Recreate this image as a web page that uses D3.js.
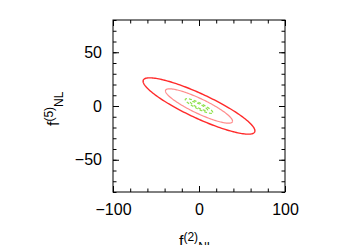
<!DOCTYPE html>
<html>
<head>
<meta charset="utf-8">
<script src="https://cdn.jsdelivr.net/npm/d3@7"></script>
<style>
  body { margin: 0; background: #fff; }
  svg { font-family: "Liberation Sans", Arial, sans-serif; }
</style>
</head>
<body>
<svg id="svg" width="350" height="245"></svg>
<script>
// axis setup
const xDomain = [-100, 100];
const yDomain = [-80, 80];
const xMajor = [-100, 0, 100];
const yMajor = [-50, 0, 50];
const xMinor = d3.range(-100, 101, 20);
const yMinor = d3.range(-80, 81, 10);

// error ellipses: 1-sigma widths in f2 / f5 and their correlation
const ellipseNames = ["A outer", "A inner", "B outer", "B inner"];
const sigmaF2 = [65, 39, 16, 10];
const sigmaF5 = [26.2, 16, 6.8, 4.3];
const corr = [-0.88, -0.88, -0.88, -0.88];
const colors = ["#ff2a2a", "#ff8c8c", "#8ee04a", "#8ee04a"];
const dashes = [null, null, "3,2", "3,2"];

const svg = d3.select("#svg");
const mLeft = 113, mRight = 285, mTop = 20, mBottom = 192;

const x = d3.scaleLinear().domain(xDomain).range([mLeft, mRight]);
const y = d3.scaleLinear().domain(yDomain).range([mBottom, mTop]);

// ellipses
const line = d3.line().x((d) => x(d[0])).y((d) => y(d[1]));
const ts = d3.range(0, 2 * Math.PI + 0.001, Math.PI / 90);

ellipseNames.forEach((name, i) => {
  const pts = ts.map((t) => [
    sigmaF2[i] * Math.cos(t),
    sigmaF5[i] * (corr[i] * Math.cos(t) + Math.sqrt(1 - corr[i] * corr[i]) * Math.sin(t)),
  ]);
  svg.append("path")
    .datum(pts)
    .attr("d", line)
    .attr("fill", "none")
    .attr("stroke", colors[i])
    .attr("stroke-width", i == 0 ? 1.4 : 1.2)
    .attr("stroke-dasharray", dashes[i]);
});

// ticks (inward, mirrored)
function ticks(axis, transform, values, size, labels) {
  const g = svg.append("g").attr("transform", transform)
    .call(axis.tickValues(values).tickSize(-size).tickPadding(labels ? 12 : 0)
      .tickFormat(labels ? d3.format("d") : ""));
  g.select(".domain").remove();
  g.selectAll("text").attr("font-size", 16).attr("fill", "#000")
    .attr("font-family", "Liberation Sans, Arial, sans-serif");
  return g;
}
ticks(d3.axisBottom(x), `translate(0,${mBottom})`, xMinor, 3.5, false);
ticks(d3.axisBottom(x), `translate(0,${mBottom})`, xMajor, 6, true);
ticks(d3.axisTop(x), `translate(0,${mTop})`, xMinor, 3.5, false);
ticks(d3.axisTop(x), `translate(0,${mTop})`, xMajor, 6, false);
ticks(d3.axisLeft(y), `translate(${mLeft},0)`, yMinor, 3.5, false);
const yl = ticks(d3.axisLeft(y), `translate(${mLeft},0)`, yMajor, 6, true);
yl.selectAll("text").attr("x", -11);
ticks(d3.axisRight(y), `translate(${mRight},0)`, yMinor, 3.5, false);
ticks(d3.axisRight(y), `translate(${mRight},0)`, yMajor, 6, false);

// frame
svg.append("rect")
  .attr("x", mLeft).attr("y", mTop)
  .attr("width", mRight - mLeft).attr("height", mBottom - mTop)
  .attr("fill", "none").attr("stroke", "#000").attr("stroke-width", 1);

// axis titles
function title(el, sup) {
  el.append("tspan").attr("font-size", 16).text("f");
  el.append("tspan").attr("font-size", 12).attr("dy", -6).text(sup);
  el.append("tspan").attr("font-size", 12).attr("dy", 10).text("NL");
}
title(svg.append("text").attr("x", 179).attr("y", 247), "(2)");
title(svg.append("text").attr("transform", "translate(59,126) rotate(-90)"), "(5)");
</script>
</body>
</html>
